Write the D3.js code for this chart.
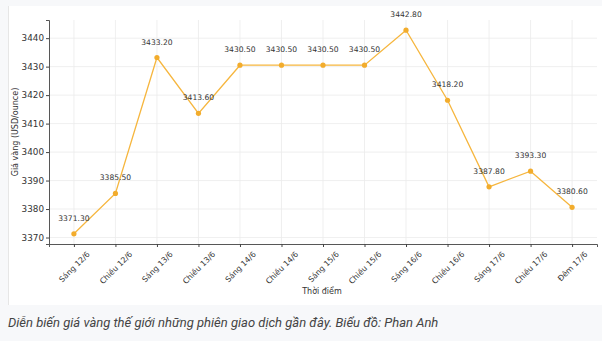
<html>
<head>
	<meta charset="UTF-8">
	<title>Giá vàng</title>
	<style>
		body { margin: 0; background: #f7f8fa; }
		svg { display: block; }
		.tick text { fill: #333; font-family: "DejaVu Sans", sans-serif; }
	</style>
</head>
<body>
	<script src="https://cdnjs.cloudflare.com/ajax/libs/d3/7.8.5/d3.min.js"></script>
	<script>
		var sessions = ["Sáng 12/6", "Chiều 12/6", "Sáng 13/6", "Chiều 13/6", "Sáng 14/6", "Chiều 14/6",
			"Sáng 15/6", "Chiều 15/6", "Sáng 16/6", "Chiều 16/6", "Sáng 17/6", "Chiều 17/6", "Đêm 17/6"];
		var prices = [3371.3, 3385.5, 3433.2, 3413.6, 3430.5, 3430.5, 3430.5, 3430.5, 3442.8, 3418.2, 3387.8, 3393.3, 3380.6];
		var yTicks = [3370, 3380, 3390, 3400, 3410, 3420, 3430, 3440];

		var W = 602, H = 341;
		var margin = {top: 20, right: 5, bottom: 97, left: 49},
			width = W - margin.left - margin.right,
			height = H - margin.top - margin.bottom;

		var svg = d3.select("body").append("svg")
			.attr("width", W)
			.attr("height", H);

		// image frame + caption strip
		svg.append("rect").attr("x", 8).attr("y", 6).attr("width", W - 8).attr("height", 299).attr("fill", "#fff");
		svg.append("line").attr("x1", 8.5).attr("x2", 8.5).attr("y1", 6).attr("y2", 305)
			.attr("stroke", "#e6e6e6");
		svg.append("text")
			.attr("x", 8).attr("y", 327)
			.attr("fill", "#444")
			.style("font-family", "Roboto, sans-serif")
			.style("font-style", "italic")
			.style("font-size", "13px")
			.text("Diễn biến giá vàng thế giới những phiên giao dịch gần đây. Biểu đồ: Phan Anh");

		var g = svg.append("g")
			.attr("transform", "translate(" + margin.left + "," + margin.top + ")");

		var idx = sessions.map(function(d, i) { return i; });
		var x = d3.scaleLinear()
			.domain([-0.6, sessions.length - 1 + 0.6])
			.range([0, width]);
		var ext = d3.extent(prices), pad = (ext[1] - ext[0]) * 0.05;
		var y = d3.scaleLinear()
			.domain([ext[0] - pad, ext[1] + pad])
			.range([height, 0]);

		// grid
		g.append("g").selectAll("line").data(yTicks).enter().append("line")
			.attr("x1", 0).attr("x2", width)
			.attr("y1", function(d) { return y(d); }).attr("y2", function(d) { return y(d); })
			.attr("stroke", "#ebebeb").attr("stroke-width", 0.8);
		g.append("g").selectAll("line").data(idx).enter().append("line")
			.attr("y1", 0).attr("y2", height)
			.attr("x1", function(d) { return x(d); }).attr("x2", function(d) { return x(d); })
			.attr("stroke", "#ebebeb").attr("stroke-width", 0.8);

		// axes
		var yAxis = g.append("g")
			.call(d3.axisLeft(y).tickValues(yTicks).tickSize(3).tickPadding(2).tickFormat(d3.format("d")));
		yAxis.selectAll("text").style("font-size", "8.8px");

		var xAxis = g.append("g")
			.attr("transform", "translate(0," + height + ")")
			.call(d3.axisBottom(x).tickValues(idx).tickSize(3).tickFormat(function(i) { return sessions[i]; }));
		// rotated labels centred under the tick, tops aligned (like matplotlib ha=center)
		xAxis.selectAll(".tick text")
			.style("font-size", "7.8px")
			.attr("text-anchor", "middle")
			.attr("x", 0).attr("y", 0)
			.attr("dy", "0.35em")
			.attr("transform", function() {
				var L = this.getComputedTextLength(), h = 7.8;
				var half = (L + h) * Math.SQRT1_2 / 2;
				return "translate(0," + (6 + half) + ") rotate(-45)";
			});
		g.selectAll(".domain").attr("stroke", "#444").attr("stroke-width", 0.9);
		g.selectAll(".tick line").attr("stroke", "#444");

		// line + markers
		var line = d3.line()
			.x(function(d, i) { return x(i); })
			.y(function(d) { return y(d); });
		g.append("path")
			.datum(prices)
			.attr("fill", "none")
			.attr("stroke", "#f6b63e")
			.attr("stroke-width", 1.3)
			.attr("d", line);
		g.selectAll(".dot").data(prices).enter().append("circle")
			.attr("class", "dot")
			.attr("cx", function(d, i) { return x(i); })
			.attr("cy", function(d) { return y(d); })
			.attr("r", 2.6)
			.attr("fill", "#f2ac2c");

		g.selectAll(".lbl").data(prices).enter().append("text")
			.attr("class", "lbl")
			.attr("x", function(d, i) { return x(i); })
			.attr("y", function(d) { return y(d) - 13; })
			.attr("text-anchor", "middle")
			.attr("fill", "#333")
			.style("font-family", "DejaVu Sans, sans-serif")
			.style("font-size", "7.6px")
			.text(function(d) { return d.toFixed(2); });

		// axis titles
		g.append("text")
			.attr("x", width / 2 - 1).attr("y", height + 50)
			.attr("text-anchor", "middle")
			.attr("fill", "#333")
			.style("font-family", "DejaVu Sans, sans-serif")
			.style("font-size", "8px")
			.text("Thời điểm");
		g.append("text")
			.attr("transform", "translate(-31," + (height / 2) + ") rotate(-90)")
			.attr("text-anchor", "middle")
			.attr("fill", "#333")
			.style("font-family", "DejaVu Sans, sans-serif")
			.style("font-size", "8px")
			.text("Giá vàng (USD/ounce)");
	</script>
</body>
</html>
